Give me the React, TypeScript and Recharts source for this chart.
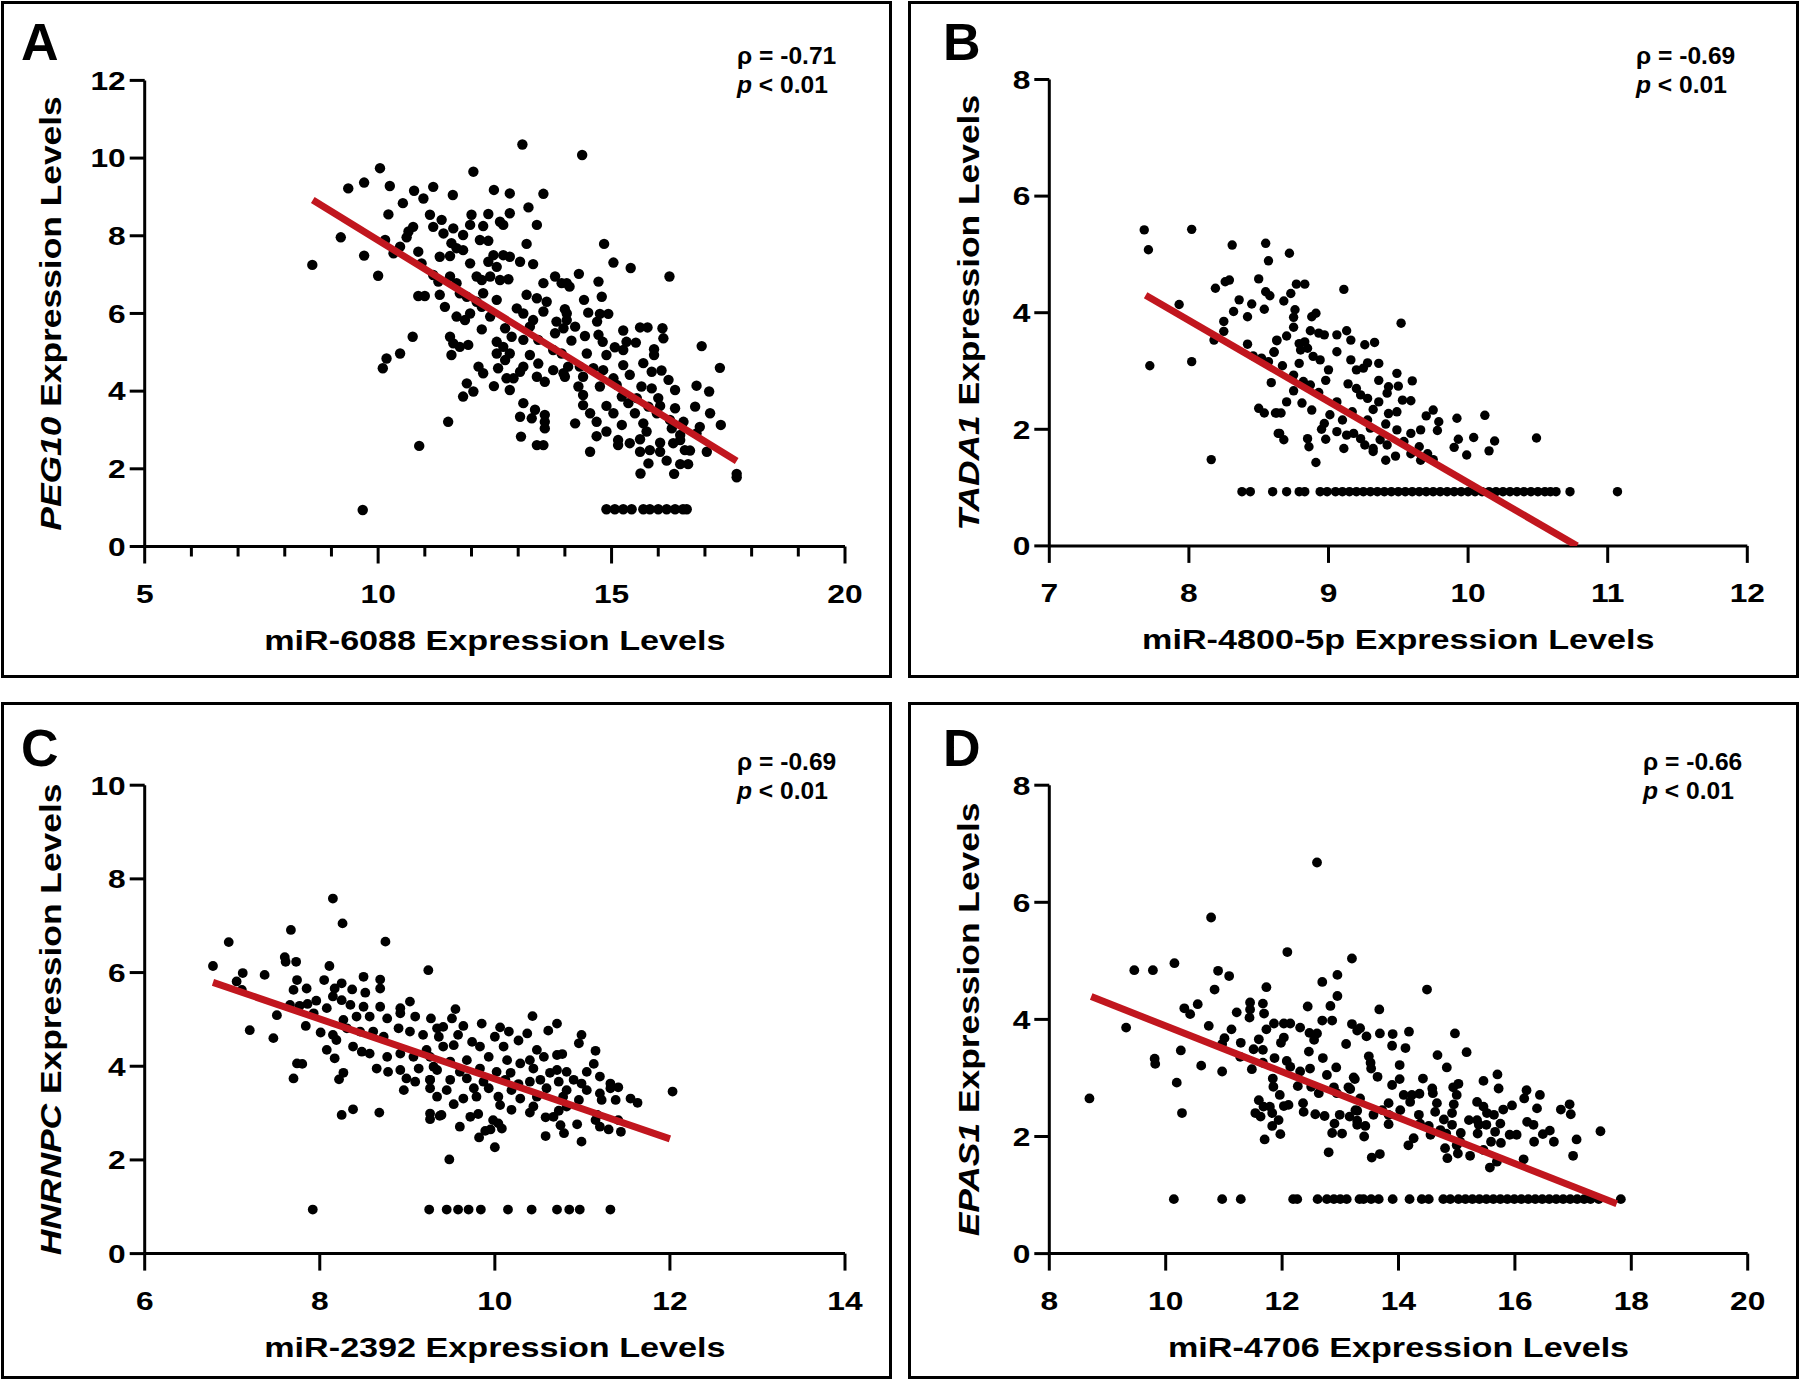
import React from "react";
import { ScatterChart, Scatter, XAxis, YAxis } from "recharts";

type P = [number, number];

// ---- Panel A: miR-6088 vs PEG10 ----
const pointsA: P[] = [
  [13.09,10.35],[10.04,9.74],[12.04,9.65],[9.36,9.22],[9.70,9.37],[10.25,9.28],[10.77,9.16],[11.18,9.26],[10.97,8.96],[11.60,9.05],
  [12.48,9.18],[12.82,9.09],[13.54,9.08],[13.22,8.73],[10.53,8.84],[10.22,8.55],[12.00,8.54],[12.36,8.56],[12.82,8.58],[11.11,8.54],
  [11.36,8.41],[11.97,8.28],[12.25,8.25],[12.61,8.36],[12.68,8.28],[13.40,8.28],[10.75,8.23],[10.65,8.11],[11.18,8.23],[11.61,8.19],
  [11.82,8.02],[11.40,8.06],[10.61,7.96],[9.20,7.96],[10.15,7.89],[10.47,7.72],[10.33,7.55],[12.18,7.89],[12.36,7.87],[11.57,7.81],
  [11.68,7.68],[11.82,7.63],[13.18,7.79],[10.86,7.59],[9.70,7.49],[8.59,7.25],[11.32,7.46],[11.54,7.48],[12.47,7.50],[12.68,7.50],
  [12.82,7.46],[13.04,7.33],[13.32,7.27],[11.97,7.29],[12.36,7.33],[12.54,7.20],[10.93,7.29],[10.00,6.97],[11.18,6.99],[11.29,6.82],
  [11.54,6.95],[11.68,6.78],[12.11,6.95],[12.22,6.86],[12.40,6.95],[12.61,6.86],[12.79,6.88],[13.79,6.95],[13.54,6.78],[14.04,6.78],
  [10.86,6.45],[11.00,6.45],[11.32,6.48],[11.75,6.52],[11.90,6.43],[12.11,6.30],[12.25,6.52],[12.54,6.35],[13.18,6.48],[13.40,6.39],
  [13.61,6.30],[11.43,6.17],[11.68,5.92],[11.86,5.83],[11.97,6.00],[12.22,6.17],[12.40,5.92],[12.97,6.13],[13.11,6.00],[13.32,5.83],
  [13.54,6.05],[13.82,5.79],[14.04,6.00],[12.22,5.59],[12.72,5.62],[13.25,5.66],[13.79,5.49],[13.97,5.62],[10.74,5.40],[11.54,5.40],
  [11.61,5.23],[11.75,5.14],[11.93,5.19],[12.54,5.27],[12.68,5.14],[12.86,5.40],[13.11,5.32],[13.43,5.32],[13.75,5.06],[13.93,4.97],
  [10.47,4.97],[10.18,4.84],[10.10,4.59],[11.57,4.93],[12.54,4.97],[12.72,4.80],[12.82,4.97],[13.25,4.93],[13.43,4.71],[13.11,4.63],
  [12.15,4.63],[12.25,4.46],[12.57,4.59],[12.75,4.33],[12.90,4.33],[13.04,4.50],[13.40,4.37],[13.57,4.24],[13.75,4.54],[13.97,4.46],
  [11.90,4.20],[12.04,3.99],[11.82,3.86],[12.48,4.13],[12.82,4.03],[13.11,3.69],[13.36,3.52],[13.57,3.39],[13.04,3.34],[13.29,3.30],
  [13.57,3.21],[13.57,3.04],[11.50,3.21],[13.06,2.83],[13.40,2.61],[13.54,2.61],[10.88,2.59],[9.67,0.94],
  [14.37,10.08],[14.84,7.79],[15.04,7.31],[15.41,7.17],[16.24,6.95],[14.30,7.02],[13.93,6.78],[14.10,6.69],[14.72,6.82],[14.41,6.35],
  [14.79,6.43],[14.00,6.11],[14.50,6.02],[14.75,5.99],[14.93,5.99],[14.04,5.83],[14.69,5.79],[14.22,5.66],[15.61,5.64],[15.77,5.64],
  [16.09,5.62],[15.25,5.56],[14.43,5.42],[14.72,5.45],[14.14,5.30],[14.81,5.27],[15.32,5.27],[15.52,5.25],[16.11,5.36],[15.07,5.13],
  [15.25,5.06],[15.91,5.08],[16.93,5.16],[14.47,4.97],[14.89,4.93],[15.91,4.93],[15.25,4.67],[15.68,4.72],[14.07,4.63],[14.32,4.63],
  [14.61,4.59],[14.82,4.54],[17.32,4.60],[15.86,4.50],[16.07,4.53],[14.00,4.37],[14.39,4.37],[15.04,4.33],[15.39,4.42],[16.22,4.29],
  [14.29,4.12],[14.75,4.12],[15.11,4.16],[15.64,4.12],[15.86,4.07],[16.36,4.03],[16.82,4.14],[17.09,3.99],[14.39,3.90],[15.22,3.86],
  [15.54,3.82],[16.00,3.82],[14.39,3.64],[14.89,3.62],[15.36,3.69],[15.79,3.60],[16.04,3.62],[16.36,3.56],[16.79,3.60],[14.54,3.43],
  [15.04,3.43],[15.50,3.43],[15.97,3.43],[17.11,3.43],[14.22,3.17],[14.68,3.21],[15.22,3.13],[15.68,3.17],[16.25,3.26],[16.54,3.21],
  [17.34,3.13],[14.89,2.96],[15.75,2.96],[16.29,3.04],[16.89,3.08],[14.68,2.84],[15.14,2.74],[15.61,2.76],[16.47,2.87],[16.82,2.91],
  [15.14,2.61],[15.39,2.66],[16.04,2.67],[16.32,2.66],[16.47,2.74],[14.54,2.44],[15.61,2.44],[15.82,2.48],[16.04,2.44],[16.57,2.48],
  [16.68,2.47],[17.04,2.44],[15.79,2.14],[16.18,2.21],[16.47,2.12],[16.64,2.12],[15.62,1.88],[16.34,1.87],[17.68,1.87],[17.68,1.78],
];
const floorA: P[] = [
  [14.89,0.96],[15.07,0.96],[15.25,0.96],[15.43,0.96],[15.68,0.96],[15.82,0.96],[16.00,0.96],[16.18,0.96],[16.36,0.96],[16.53,0.96],[16.61,0.96],
];
const fitA: P[] = [[8.6, 8.92], [17.68, 2.2]];
const xTicksA = [5, 6, 7, 8, 9, 10, 11, 12, 13, 14, 15, 16, 17, 18, 19, 20];
const xLabelsA = [5, 10, 15, 20];
const yTicksA = [0, 2, 4, 6, 8, 10, 12];

// ---- Panel B: miR-4800-5p vs TADA1 ----
const pointsB: P[] = [
  [7.68,5.42],[7.71,5.08],[8.02,5.43],[8.31,5.16],[8.55,5.19],[8.57,4.89],[8.50,4.58],[8.26,4.53],[8.29,4.56],[8.19,4.42],
  [8.55,4.36],[8.58,4.29],[7.93,4.14],[8.36,4.22],[8.45,4.15],[8.32,4.02],[8.42,3.93],[8.54,4.06],[8.25,3.85],[8.25,3.68],
  [8.18,3.53],[8.42,3.46],[8.63,3.52],[8.46,3.26],[8.52,3.22],[8.57,3.16],[8.61,3.33],[7.72,3.09],[8.02,3.16],[8.59,2.80],
  [8.50,2.36],[8.54,2.28],[8.63,2.28],[8.64,1.93],[8.16,1.48],
  [8.72,5.02],[8.77,4.49],[8.83,4.49],[9.11,4.40],[8.73,4.33],[8.68,4.20],[8.76,4.05],[8.75,3.92],[8.88,3.93],[8.91,3.99],
  [9.52,3.82],[8.75,3.75],[8.87,3.69],[8.93,3.65],[8.97,3.62],[9.06,3.62],[9.13,3.69],[8.70,3.60],[8.63,3.53],[9.16,3.53],
  [8.79,3.47],[8.83,3.50],[9.26,3.45],[9.33,3.49],[8.80,3.36],[8.85,3.39],[9.06,3.33],[8.61,3.32],[8.89,3.25],[8.94,3.19],
  [9.16,3.19],[8.79,3.13],[9.28,3.14],[9.36,3.13],[8.67,3.09],[9.00,3.02],[9.20,3.02],[9.25,3.05],[9.49,2.96],[8.75,2.93],
  [8.98,2.84],[9.36,2.84],[9.60,2.83],[8.82,2.82],[8.87,2.76],[9.14,2.78],[9.20,2.70],[9.43,2.73],[9.50,2.74],[8.75,2.66],
  [8.93,2.63],[9.23,2.59],[9.42,2.62],[8.70,2.47],[8.81,2.45],[9.06,2.47],[9.28,2.53],[9.36,2.47],[9.53,2.50],[9.59,2.49],
  [8.62,2.28],[8.66,2.28],[8.88,2.33],[9.01,2.25],[9.17,2.30],[9.32,2.34],[9.43,2.27],[9.49,2.30],[9.70,2.23],[9.75,2.33],
  [9.92,2.19],[10.12,2.24],[8.97,2.10],[9.10,2.16],[9.28,2.16],[9.41,2.09],[9.79,2.13],[8.95,2.00],[9.06,1.96],[9.18,1.93],
  [9.30,2.02],[9.49,1.99],[9.59,1.93],[9.66,1.99],[9.78,1.98],[8.65,1.93],[8.68,1.82],[8.85,1.84],[8.98,1.83],[9.13,1.90],
  [9.23,1.84],[9.37,1.82],[9.54,1.79],[10.04,1.86],[10.19,1.80],[10.49,1.85],[9.93,1.83],[8.86,1.70],[9.11,1.67],[9.26,1.73],
  [9.32,1.67],[9.42,1.73],[9.65,1.70],[9.90,1.69],[9.59,1.58],[9.71,1.58],[9.32,1.62],[9.99,1.56],[10.15,1.63],[9.41,1.47],
  [9.48,1.54],[9.66,1.47],[9.75,1.48],[8.91,1.43],
];
const floorB: P[] = [
  [8.38,0.93],[8.44,0.93],[8.60,0.93],[8.70,0.93],[8.79,0.93],[8.83,0.93],[8.94,0.93],[8.99,0.93],[9.05,0.93],[9.10,0.93],
  [9.15,0.93],[9.20,0.93],[9.25,0.93],[9.30,0.93],[9.35,0.93],[9.40,0.93],[9.45,0.93],[9.50,0.93],[9.55,0.93],[9.60,0.93],
  [9.65,0.93],[9.70,0.93],[9.75,0.93],[9.80,0.93],[9.85,0.93],[9.90,0.93],[9.95,0.93],[10.00,0.93],[10.05,0.93],[10.10,0.93],
  [10.15,0.93],[10.20,0.93],[10.25,0.93],[10.30,0.93],[10.35,0.93],[10.40,0.93],[10.45,0.93],[10.50,0.93],[10.55,0.93],[10.59,0.93],
  [10.63,0.93],[10.73,0.93],[11.07,0.93],
];
const fitB: P[] = [[7.69, 4.3], [10.78, 0]];
const xTicksB = [7, 8, 9, 10, 11, 12];
const yTicksB = [0, 2, 4, 6, 8];

// ---- Panel C: miR-2392 vs HNRNPC ----
const pointsC: P[] = [
  [8.15,7.58],[8.26,7.05],[7.67,6.91],[6.96,6.65],[8.75,6.66],[6.78,6.14],[7.60,6.33],[7.73,6.23],[7.61,6.23],[7.12,5.99],
  [7.37,5.95],[8.11,6.14],[9.24,6.05],[7.05,5.81],[7.11,5.63],[7.74,5.84],[7.70,5.63],[7.85,5.66],[8.05,5.84],[8.17,5.66],
  [8.25,5.77],[8.50,5.91],[8.69,5.85],[8.69,5.66],[8.37,5.64],[8.52,5.57],[7.66,5.31],[7.77,5.29],[7.86,5.33],[7.96,5.40],
  [8.08,5.24],[8.15,5.49],[8.25,5.41],[8.35,5.31],[8.50,5.27],[8.69,5.27],[8.92,5.24],[9.03,5.38],[7.51,5.09],[7.93,5.13],
  [8.27,4.99],[8.42,5.06],[8.57,5.06],[8.77,5.02],[8.92,5.13],[9.09,5.06],[9.27,5.02],[7.20,4.77],[7.47,4.60],[7.84,4.86],
  [8.01,4.72],[8.15,4.67],[8.31,4.81],[8.46,4.74],[8.61,4.74],[8.73,4.63],[8.90,4.81],[9.03,4.74],[9.18,4.67],[9.34,4.81],
  [8.08,4.35],[8.19,4.56],[8.38,4.42],[8.48,4.31],[8.57,4.27],[8.77,4.20],[8.92,4.27],[9.07,4.20],[9.22,4.35],[8.17,4.17],
  [7.74,4.06],[7.80,4.05],[8.65,3.95],[8.78,3.88],[8.92,3.92],[9.13,3.95],[9.30,3.99],[8.27,3.86],[7.70,3.74],[8.22,3.72],
  [8.99,3.74],[9.09,3.67],[9.26,3.71],[8.96,3.49],[9.26,3.53],[8.25,2.96],[8.38,3.08],[8.68,3.01],[9.26,2.99],[9.26,2.87],
  [9.37,2.94],
  [9.55,5.22],[10.43,5.07],[9.51,5.02],[9.41,4.84],[9.64,4.86],[9.85,4.91],[10.06,4.83],[10.16,4.74],[10.37,4.70],[10.61,4.76],
  [10.71,4.91],[10.99,4.67],[10.96,4.49],[9.36,4.63],[9.58,4.67],[9.74,4.52],[10.00,4.63],[10.27,4.55],[9.41,4.42],[9.53,4.45],
  [9.83,4.42],[10.10,4.42],[10.48,4.35],[11.15,4.33],[10.71,4.24],[10.77,4.26],[9.26,4.20],[9.49,4.10],[9.68,4.13],[9.93,4.20],
  [10.14,4.13],[10.29,4.06],[10.40,4.13],[10.56,4.20],[11.13,4.05],[9.34,3.92],[9.60,3.88],[9.83,3.95],[10.02,3.88],[10.18,3.86],
  [10.44,3.95],[10.63,3.86],[10.71,3.92],[10.82,3.88],[11.05,3.88],[9.26,3.71],[9.49,3.71],[9.68,3.74],[9.87,3.67],[10.12,3.71],
  [10.27,3.62],[10.40,3.67],[10.52,3.71],[10.73,3.67],[10.90,3.71],[10.99,3.63],[11.20,3.78],[11.32,3.63],[11.41,3.55],[12.03,3.46],
  [9.45,3.49],[9.76,3.53],[9.93,3.53],[10.19,3.49],[10.59,3.53],[10.82,3.49],[11.05,3.49],[11.20,3.42],[11.32,3.53],[9.34,3.35],
  [9.64,3.31],[9.79,3.35],[10.04,3.35],[10.29,3.31],[10.48,3.35],[10.78,3.35],[10.96,3.28],[11.22,3.28],[11.38,3.28],[11.55,3.31],
  [11.63,3.22],[9.53,3.19],[10.06,3.17],[10.19,3.07],[10.44,3.14],[10.82,3.14],[9.39,2.96],[9.72,2.92],[9.81,2.98],[9.98,2.85],
  [10.40,3.01],[10.58,2.91],[10.67,2.92],[10.73,3.05],[11.17,2.96],[10.04,2.78],[10.08,2.67],[9.60,2.71],[10.75,2.74],[10.94,2.76],
  [11.15,2.85],[11.20,2.71],[11.30,2.65],[11.41,2.85],[11.44,2.60],[10.79,2.57],[9.89,2.62],[9.95,2.65],[9.82,2.48],[10.58,2.51],
  [10.99,2.39],[10.00,2.27],[9.48,2.01],
];
const floorC: P[] = [
  [7.92,0.94],[9.25,0.94],[9.45,0.94],[9.58,0.94],[9.70,0.94],[9.84,0.94],[10.15,0.94],[10.42,0.94],[10.71,0.94],[10.85,0.94],[10.97,0.94],[11.32,0.94],
];
const fitC: P[] = [[6.78, 5.79], [12.0, 2.45]];
const xTicksC = [6, 8, 10, 12, 14];
const yTicksC = [0, 2, 4, 6, 8, 10];

// ---- Panel D: miR-4706 vs EPAS1 ----
const pointsD: P[] = [
  [12.60,6.68],[10.78,5.74],[12.09,5.15],[13.20,5.04],[9.46,4.84],[9.78,4.84],[10.15,4.96],[10.90,4.83],[11.09,4.74],[12.69,4.64],
  [12.95,4.76],[11.73,4.55],[10.84,4.51],[12.95,4.40],[10.55,4.26],[10.32,4.19],[10.42,4.09],[11.22,4.12],[11.45,4.29],[11.45,4.17],
  [11.67,4.27],[11.69,4.10],[11.44,4.03],[12.44,4.22],[12.83,4.23],[12.69,3.98],[12.86,3.98],[9.32,3.86],[10.74,3.89],[11.13,3.83],
  [11.73,3.83],[11.86,3.93],[12.03,3.93],[12.14,3.93],[12.31,3.86],[12.47,3.77],[12.60,3.76],[13.20,3.92],[13.29,3.81],[11.01,3.68],
  [10.97,3.58],[11.29,3.60],[11.60,3.66],[11.98,3.60],[12.03,3.69],[12.55,3.65],[13.10,3.58],[10.26,3.47],[11.51,3.49],[11.67,3.48],
  [12.46,3.45],[9.81,3.33],[9.82,3.24],[10.61,3.21],[10.97,3.11],[11.28,3.36],[11.48,3.15],[11.67,3.26],[11.87,3.34],[12.08,3.29],
  [12.14,3.19],[12.31,3.11],[12.48,3.16],[12.70,3.34],[12.77,3.05],[12.93,3.18],[10.19,2.92],[11.84,2.99],[11.85,2.85],[12.27,2.86],
  [12.50,2.85],[12.63,2.74],[12.89,2.84],[12.94,2.74],[13.14,2.84],[13.23,3.01],[8.69,2.65],[11.96,2.71],[11.60,2.62],[11.68,2.51],
  [11.79,2.51],[12.03,2.52],[12.11,2.54],[12.36,2.57],[10.28,2.40],[11.54,2.40],[11.63,2.34],[11.83,2.40],[12.37,2.42],[12.57,2.38],
  [12.73,2.35],[12.99,2.37],[13.16,2.34],[13.26,2.45],[11.94,2.28],[12.90,2.22],[11.83,2.18],[13.29,2.20],[11.97,2.04],[12.86,2.06],
  [13.03,2.05],[11.70,1.95],[12.80,1.73],
  [14.49,4.51],[13.67,4.17],[13.34,3.85],[13.45,3.71],[13.68,3.76],[13.90,3.75],[14.18,3.79],[14.97,3.76],[13.89,3.55],[14.12,3.51],
  [14.67,3.39],[15.17,3.44],[13.49,3.37],[13.52,3.26],[13.53,3.16],[14.02,3.22],[14.83,3.18],[13.25,2.98],[13.64,3.02],[14.02,2.98],
  [14.42,2.99],[15.46,2.95],[15.70,3.06],[15.72,2.82],[13.89,2.88],[14.58,2.82],[14.94,2.84],[15.03,2.90],[13.17,2.81],[14.59,2.74],
  [14.09,2.71],[14.23,2.71],[14.36,2.73],[15.00,2.71],[16.20,2.79],[16.43,2.71],[16.16,2.65],[13.34,2.65],[13.83,2.57],[14.20,2.59],
  [14.66,2.57],[14.95,2.55],[15.35,2.59],[15.46,2.51],[15.95,2.53],[16.38,2.48],[16.79,2.46],[16.94,2.55],[16.96,2.38],[13.29,2.44],
  [13.57,2.37],[13.72,2.45],[13.83,2.37],[14.03,2.45],[14.35,2.37],[14.63,2.42],[14.78,2.29],[14.92,2.40],[15.21,2.28],[15.35,2.28],
  [15.52,2.40],[15.64,2.37],[15.80,2.46],[13.29,2.27],[13.43,2.18],[13.83,2.21],[14.37,2.22],[14.52,2.18],[14.72,2.11],[14.92,2.20],
  [15.38,2.20],[15.51,2.20],[15.75,2.22],[16.21,2.25],[16.32,2.20],[13.41,2.00],[14.55,2.03],[14.82,2.05],[15.07,2.06],[15.36,2.05],
  [15.66,2.08],[15.91,2.03],[16.03,2.03],[16.48,2.04],[16.60,2.10],[17.47,2.09],[14.26,1.97],[15.06,1.91],[15.59,1.91],[15.76,1.89],
  [16.33,1.91],[16.67,1.91],[17.06,1.95],[14.17,1.85],[14.80,1.80],[15.00,1.85],[15.46,1.77],[13.68,1.70],[13.54,1.64],[14.84,1.63],
  [15.02,1.71],[15.23,1.67],[16.15,1.61],[17.00,1.67],[15.69,1.57],[15.57,1.47],
];
const floorD: P[] = [
  [10.14,0.93],[10.97,0.93],[11.29,0.93],[12.19,0.93],[12.26,0.93],[12.61,0.93],[12.77,0.93],[12.89,0.93],[13.00,0.93],[13.11,0.93],
  [13.33,0.93],[13.40,0.93],[13.53,0.93],[13.66,0.93],[13.90,0.93],[14.19,0.93],[14.40,0.93],[14.52,0.93],[14.77,0.93],[14.89,0.93],
  [15.03,0.93],[15.15,0.93],[15.27,0.93],[15.39,0.93],[15.51,0.93],[15.63,0.93],[15.75,0.93],[15.87,0.93],[15.99,0.93],[16.11,0.93],
  [16.23,0.93],[16.35,0.93],[16.47,0.93],[16.59,0.93],[16.71,0.93],[16.83,0.93],[16.95,0.93],[17.07,0.93],[17.19,0.93],[17.30,0.93],
  [17.44,0.93],[17.82,0.93],
];
const fitD: P[] = [[8.72, 4.39], [17.75, 0.85]];
const xTicksD = [8, 10, 12, 14, 16, 18, 20];
const yTicksD = [0, 2, 4, 6, 8];

const genes = ["PEG10", "TADA1", "HNRNPC", "EPAS1"];
const mirnas = ["miR-6088", "miR-4800-5p", "miR-2392", "miR-4706"];
const rhos = ["-0.71", "-0.69", "-0.69", "-0.66"];
const letters = ["A", "B", "C", "D"];

const FONT = '"Liberation Sans", Arial, Helvetica, sans-serif';
const SX = 1.22; // figure is slightly stretched horizontally
const RED = "#C1161E";
const W = 891;
const H = 677;

const toXY = (arr: P[]) => arr.map(([x, y]) => ({ x, y }));

function XTick(props: any) {
  const { x, y, payload, labels } = props;
  const major = labels.includes(payload.value);
  return (
    <g>
      <line x1={x} y1={y} x2={x} y2={y + (major ? 17 : 10)} stroke="#000" strokeWidth={3} />
      {major && (
        <text
          transform={`translate(${x},${y + 56}) scale(${SX},1)`}
          textAnchor="middle"
          style={{ fontFamily: FONT, fontWeight: 700, fontSize: 26, fill: "#000" }}
        >
          {payload.value}
        </text>
      )}
    </g>
  );
}

function YTick(props: any) {
  const { x, y, payload } = props;
  return (
    <g>
      <line x1={x - 15} y1={y} x2={x} y2={y} stroke="#000" strokeWidth={3} />
      <text
        transform={`translate(${x - 19},${y + 9.3}) scale(${SX},1)`}
        textAnchor="end"
        style={{ fontFamily: FONT, fontWeight: 700, fontSize: 26, fill: "#000" }}
      >
        {payload.value}
      </text>
    </g>
  );
}

const panels = [
  {
    box: { left: 1, top: 1 }, plot: { left: 144.7, right: 845, top: 80.4, bottom: 546.5 },
    xDomain: [5, 20], xTicks: xTicksA, xLabels: xLabelsA, yDomain: [0, 12], yTicks: yTicksA,
    points: [...pointsA, ...floorA], fit: fitA, r: 5.2,
    letterX: 21, letterY: 60, annX: 737, annY: 64, yTitleX: 51,
  },
  {
    box: { left: 908, top: 1 }, plot: { left: 1049.3, right: 1747.3, top: 79.5, bottom: 545.9 },
    xDomain: [7, 12], xTicks: xTicksB, xLabels: xTicksB, yDomain: [0, 8], yTicks: yTicksB,
    points: [...pointsB, ...floorB], fit: fitB, r: 4.7,
    letterX: 943, letterY: 60, annX: 1636, annY: 64, yTitleX: 969,
  },
  {
    box: { left: 1, top: 702 }, plot: { left: 144.7, right: 845, top: 785.2, bottom: 1253.6 },
    xDomain: [6, 14], xTicks: xTicksC, xLabels: xTicksC, yDomain: [0, 10], yTicks: yTicksC,
    points: [...pointsC, ...floorC], fit: fitC, r: 4.9,
    letterX: 21, letterY: 766, annX: 737, annY: 770, yTitleX: 51,
  },
  {
    box: { left: 908, top: 702 }, plot: { left: 1049.3, right: 1747.7, top: 785.2, bottom: 1253.6 },
    xDomain: [8, 20], xTicks: xTicksD, xLabels: xTicksD, yDomain: [0, 8], yTicks: yTicksD,
    points: [...pointsD, ...floorD], fit: fitD, r: 4.9,
    letterX: 943, letterY: 766, annX: 1643, annY: 770, yTitleX: 969,
  },
];

function Panel({ cfg }: { cfg: any }) {
  const { box, plot } = cfg;
  const margin = {
    left: plot.left - box.left - 60,
    right: box.left + W - plot.right,
    top: plot.top - box.top,
    bottom: box.top + H - plot.bottom - 40,
  };
  const r = cfg.r;
  return (
    <div style={{ position: "absolute", left: box.left, top: box.top, width: W, height: H }}>
      <div style={{ position: "absolute", inset: 0, border: "3px solid #000", boxSizing: "border-box" }} />
      <ScatterChart width={W} height={H} margin={margin}>
        <XAxis
          type="number"
          dataKey="x"
          domain={cfg.xDomain}
          ticks={cfg.xTicks}
          interval={0}
          allowDataOverflow
          height={40}
          tickSize={0}
          tickMargin={0}
          tickLine={false}
          axisLine={{ stroke: "#000", strokeWidth: 3 }}
          tick={(p: any) => <XTick {...p} labels={cfg.xLabels} />}
        />
        <YAxis
          type="number"
          dataKey="y"
          domain={cfg.yDomain}
          ticks={cfg.yTicks}
          interval={0}
          allowDataOverflow
          width={60}
          tickSize={0}
          tickMargin={0}
          tickLine={false}
          axisLine={{ stroke: "#000", strokeWidth: 3 }}
          tick={(p: any) => <YTick {...p} />}
        />
        <Scatter
          data={toXY(cfg.points)}
          isAnimationActive={false}
          shape={(p: any) => <circle cx={p.cx} cy={p.cy} r={r} fill="#000" />}
        />
        <Scatter
          data={toXY(cfg.fit)}
          isAnimationActive={false}
          line={{ stroke: RED, strokeWidth: 7 }}
          shape={() => <g />}
        />
      </ScatterChart>
    </div>
  );
}

export default function App() {
  const bold = { fontFamily: FONT, fontWeight: 700, fill: "#000" } as const;
  return (
    <div style={{ position: "absolute", left: 0, top: 0, width: 1800, height: 1381, background: "#fff" }}>
      {panels.map((cfg, i) => (
        <Panel key={i} cfg={cfg} />
      ))}
      <svg
        width={1800}
        height={1381}
        style={{ position: "absolute", left: 0, top: 0, pointerEvents: "none" }}
      >
        {panels.map((cfg, i) => {
          const { plot } = cfg;
          const cx = (plot.left + plot.right) / 2;
          const cy = (plot.top + plot.bottom) / 2;
          return (
            <g key={i}>
              <text x={cfg.letterX} y={cfg.letterY} style={{ ...bold, fontSize: 52 }}>
                {letters[i]}
              </text>
              <text
                transform={`translate(${cfg.annX},${cfg.annY}) scale(1.07,1)`}
                style={{ ...bold, fontSize: 23, whiteSpace: "pre" }}
              >
                {"ρ = " + rhos[i]}
              </text>
              <text
                transform={`translate(${cfg.annX},${cfg.annY + 29}) scale(1.07,1)`}
                style={{ ...bold, fontSize: 23, whiteSpace: "pre" }}
              >
                <tspan fontStyle="italic">p</tspan>
                <tspan>{" < 0.01"}</tspan>
              </text>
              <text
                transform={`translate(${cfg.yTitleX},${cy}) rotate(-90) scale(${SX},1)`}
                textAnchor="middle"
                dy="0.36em"
                style={{ ...bold, fontSize: 29, whiteSpace: "pre" }}
              >
                <tspan fontStyle="italic">{genes[i]}</tspan>
                <tspan>{" Expression Levels"}</tspan>
              </text>
              <text
                transform={`translate(${cx},${plot.bottom + 103.5}) scale(${SX},1)`}
                textAnchor="middle"
                style={{ ...bold, fontSize: 28, whiteSpace: "pre" }}
              >
                {mirnas[i] + " Expression Levels"}
              </text>
            </g>
          );
        })}
      </svg>
    </div>
  );
}
